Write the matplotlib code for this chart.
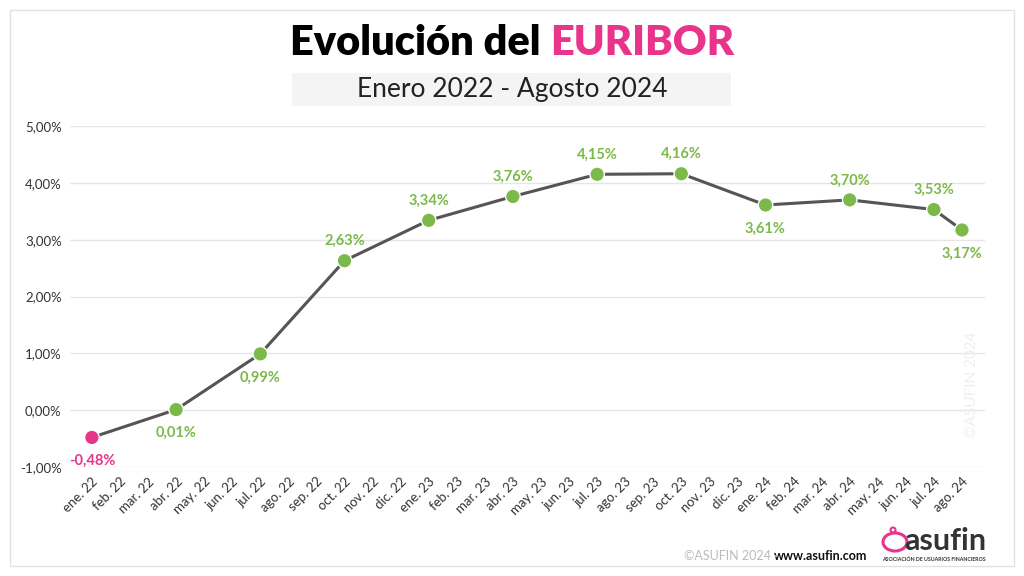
#!/usr/bin/env python3
"""Evolución del EURIBOR, enero 2022 - agosto 2024"""

import matplotlib
matplotlib.use('Agg')
import matplotlib.pyplot as plt
from matplotlib.patches import Rectangle, Ellipse

# month labels on the x axis
months = ['ene', 'feb', 'mar', 'abr', 'may', 'jun', 'jul', 'ago', 'sep', 'oct', 'nov', 'dic']
tick_labels = [f'{m}. {y}' for y in ('22', '23', '24') for m in months][:32]

# quarterly points shown in the chart
point_idx = [0, 3, 6, 9, 12, 15, 18, 21, 24, 27, 30, 31]
euribor = [-0.48, 0.01, 0.99, 2.63, 3.34, 3.76, 4.15, 4.16, 3.61, 3.70, 3.53, 3.17]
label_below = [True, True, True, False, False, False, False, False, True, False, False, True]

GREEN = '#7bb94a'
PINK = '#e8348b'
LINE = '#555555'

plt.rcParams['font.family'] = ['Lato', 'DejaVu Sans']

fig = plt.figure(figsize=(10.24, 5.76), dpi=100)
W, H = 1024, 576

# outer frame
fig.patches.append(Rectangle((10 / W, 10 / H), 1004 / W, 556 / H,
                             transform=fig.transFigure, fill=False,
                             edgecolor='#e2e2e2', linewidth=1))

# title, two colours, centred as a whole
t1 = fig.text(0.5, 1 - 43 / H, 'Evolución del ', ha='right', va='center',
              fontsize=30, fontweight='heavy', color='black')
t2 = fig.text(0.5, 1 - 43 / H, 'EURIBOR', ha='left', va='center',
              fontsize=30, fontweight='heavy', color=PINK)
fig.canvas.draw()
r = fig.canvas.get_renderer()
shift = (t1.get_window_extent(r).width - t2.get_window_extent(r).width) / 2 / W
t1.set_x(0.5 + shift)
t2.set_x(0.5 + shift)

# subtitle box
fig.patches.append(Rectangle((292 / W, 1 - 106 / H), 439 / W, 33 / H,
                             transform=fig.transFigure, facecolor='#f4f4f4',
                             edgecolor='none'))
fig.text(0.5, 1 - 89 / H, 'Enero 2022 - Agosto 2024', ha='center', va='center',
         fontsize=19, color='#222222')

ax = fig.add_axes([70 / W, 1 - 467 / H, 915 / W, 341 / H])
ax.set_xlim(-0.78, 31.82)
ax.set_ylim(-1, 5)
ax.set_yticks(range(-1, 6))
ax.set_yticklabels([f'{v},00%' for v in range(-1, 6)], fontsize=9.5, color='#333333')
ax.set_xticks(range(len(tick_labels)))
ax.set_xticklabels(tick_labels, rotation=45, ha='right', rotation_mode='anchor',
                   fontsize=9.5, color='#333333')
ax.tick_params(length=0, pad=6)
ax.grid(axis='y', color='#e6e6e6', linewidth=1)
for s in ax.spines.values():
    s.set_visible(False)
ax.set_axisbelow(True)

ax.plot(point_idx, euribor, color=LINE, linewidth=2.2, zorder=2)
colors = [PINK if v < 0 else GREEN for v in euribor]
ax.scatter(point_idx, euribor, s=110, c=colors, zorder=3, edgecolors='white', linewidths=1)

for x, v, below, c in zip(point_idx, euribor, label_below, colors):
    txt = f'{v:.2f}%'.replace('.', ',')
    ax.annotate(txt, (x, v), xytext=(0, -17 if below else 14), textcoords='offset points',
                ha='center', va='center', fontsize=10.5, fontweight='bold', color=c)

# watermark
fig.text(972 / W, 1 - 385 / H, '©ASUFIN 2024', rotation=90, ha='center', va='center',
         fontsize=11, color='#efefef')

# footer
fig.text(867 / W, 1 - 556 / H, 'www.asufin.com', ha='right', va='center',
         fontsize=9, fontweight='bold', color='#111111')
fig.text(777 / W, 1 - 556 / H, '©ASUFIN 2024 ·', ha='right', va='center',
         fontsize=9, color='#bbbbbb')
fig.text(986 / W, 1 - 541 / H, 'asufin', ha='right', va='center',
         fontsize=22, fontweight='bold', color='#333333')
fig.text(986 / W, 1 - 559 / H, 'ASOCIACIÓN DE USUARIOS FINANCIEROS', ha='right',
         va='center', fontsize=3.8, fontweight='bold', color='#333333')

# piggy-bank logo mark, drawn as simple outlines
fig.patches.append(Ellipse((895 / W, 1 - 542 / H), 24 / W, 18 / H, transform=fig.transFigure,
                           fill=False, edgecolor=PINK, linewidth=2.2))
fig.patches.append(Ellipse((893 / W, 1 - 530 / H), 5 / W, 5 / H, transform=fig.transFigure,
                           fill=False, edgecolor=PINK, linewidth=1.5))

fig.savefig('out.png', dpi=100)
